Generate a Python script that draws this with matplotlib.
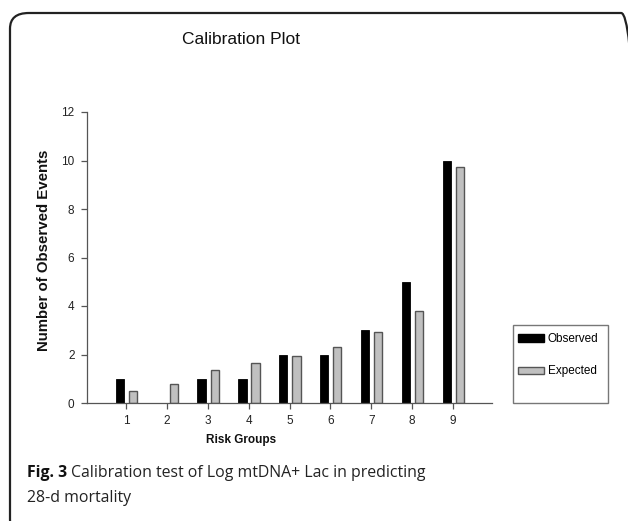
import matplotlib.pyplot as plt
from matplotlib.patches import FancyBboxPatch, Rectangle, Patch
import numpy as np

# данные
groups = [1, 2, 3, 4, 5, 6, 7, 8, 9]
observed = [1, 0, 1, 1, 2, 2, 3, 5, 10]
expected = [0.48, 0.8, 1.35, 1.65, 1.95, 2.3, 2.92, 3.8, 9.75]
y_ticks = [0, 2, 4, 6, 8, 10, 12]

W, H = 628, 521
plt.rcParams['font.family'] = ['Liberation Sans', 'DejaVu Sans']
fig = plt.figure(figsize=(W / 100, H / 100), dpi=100)

def fx(px):
    return px / W

def fy(py):
    return 1 - py / H

# рамка вокруг всей фигуры
frame = FancyBboxPatch((fx(10), fy(535)), fx(640) - fx(10), fy(13) - fy(535),
                       boxstyle="round,pad=0,rounding_size=0.03",
                       transform=fig.transFigure, facecolor='none',
                       edgecolor='#222222', linewidth=1.6, clip_on=False)
fig.patches.append(frame)

ax = fig.add_axes([fx(87), fy(403), fx(492) - fx(87), fy(112) - fy(403)])
x = np.array(groups)
ax.bar(x - 0.15, observed, width=0.2, color='black', edgecolor='black', linewidth=0.6)
ax.bar(x + 0.17, expected, width=0.2, color='#c0c0c0', edgecolor='#555555', linewidth=1.0)

ax.set_xlim(0.05, 9.95)
ax.set_ylim(0, 12)
ax.set_xticks(groups)
ax.set_yticks(y_ticks)
for s in ['top', 'right']:
    ax.spines[s].set_visible(False)
for s in ['left', 'bottom']:
    ax.spines[s].set_color('#555555')
    ax.spines[s].set_linewidth(0.9)
ax.tick_params(direction='out', length=4, width=0.9, color='#555555',
               labelsize=8.5, labelcolor='#222222', pad=5)

fig.text(fx(241), fy(40), 'Calibration Plot', ha='center', va='center',
         fontsize=12.5, color='#111111')
fig.text(fx(44), fy(250), 'Number of Observed Events', ha='center', va='center',
         rotation=90, fontsize=10.8, fontweight='bold', color='#111111')
fig.text(fx(241), fy(440), 'Risk Groups', ha='center', va='center',
         fontsize=8.5, fontweight='bold', color='#111111')

# легенда
fig.patches.append(Rectangle((fx(513), fy(403)), fx(608) - fx(513), fy(325) - fy(403),
                             transform=fig.transFigure, facecolor='white',
                             edgecolor='#777777', linewidth=1.0))
handles = [Patch(facecolor='black', edgecolor='black', label='Observed'),
           Patch(facecolor='#c0c0c0', edgecolor='#555555', label='Expected')]
fig.legend(handles=handles, loc='upper left', bbox_to_anchor=(fx(516), fy(331)),
           frameon=False, fontsize=8.5, handlelength=2.2, handleheight=0.6,
           handletextpad=0.3, labelspacing=1.7, borderpad=0.2, borderaxespad=0)

# подпись к рисунку
cap_font = 'Open Sans'
t1 = fig.text(fx(27), fy(477), 'Fig. 3', fontsize=11.4, family=cap_font,
              fontweight='bold', color='#111111')
fig.canvas.draw()
bb = t1.get_window_extent()
fig.text(bb.x1 / W + fx(4), fy(477), 'Calibration test of Log mtDNA+ Lac in predicting',
         fontsize=11.4, family=cap_font, color='#222222')
fig.text(fx(27), fy(502), '28-d mortality', fontsize=11.4, family=cap_font,
         color='#222222')

fig.savefig('out.png', dpi=100)
